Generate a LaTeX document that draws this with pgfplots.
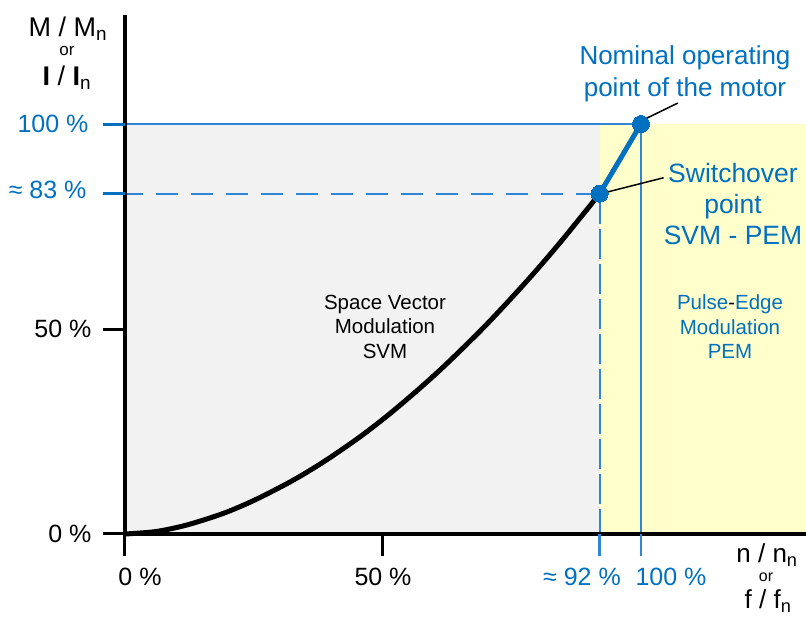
\documentclass[border=0pt]{standalone}
\usepackage{fontspec}
\setmainfont{Liberation Sans}
\usepackage{pgfplots}
\pgfplotsset{compat=1.18}
\definecolor{myblue}{HTML}{0070C0}
\definecolor{lineblue}{HTML}{2F86D6}
\definecolor{svmgrey}{HTML}{F2F2F2}
\definecolor{pemyellow}{HTML}{FFFFCC}
\newcommand\fs[1]{\fontsize{#1}{1.2\dimexpr#1pt\relax}\selectfont}
\begin{document}
\begin{tikzpicture}[x=1pt,y=1pt]
\begin{axis}[
  at={(0,0)}, anchor=origin,
  scale only axis, width=681pt, height=519pt,
  xmin=0, xmax=132, ymin=0, ymax=126.6,
  axis x line=bottom, axis y line=left,
  axis line style={-, line width=3.5pt, black},
  axis on top,
  clip=false,
  xtick={0,50}, ytick={0,50},
  xticklabels={}, yticklabels={},
  extra x ticks={92,100}, extra y ticks={83,100},
  extra x tick labels={}, extra y tick labels={},
  major tick length=22pt, tick align=outside,
  tick style={black, line width=3pt},
  extra x tick style={tick style={lineblue, line width=2.5pt}},
  extra y tick style={tick style={myblue, line width=3pt}},
]
% regions
\addplot[draw=none, fill=svmgrey] coordinates {(0,100) (92,100)} \closedcycle;
\addplot[draw=none, fill=pemyellow] coordinates {(92,100) (132,100)} \closedcycle;
% reference lines
\addplot[lineblue, line width=1.5pt] coordinates {(0,100) (100,100) (100,0)};
\addplot[lineblue, line width=2pt, dash pattern=on 22pt off 13pt, dash phase=4pt] coordinates {(0,83) (92,83)};
\addplot[lineblue, line width=2pt, dash pattern=on 30pt off 5pt] coordinates {(92,83) (92,0)};
% SVM characteristic
\addplot[black, line width=5pt, smooth] coordinates {
(0,0) (6,0.6) (12,2.2) (19,5.0) (25,8.2) (32,12.7) (38,17.2) (45,23.2) (51,29.0) (57,35.4) (62,41.1) (69,49.7) (75,57.7) (80,64.7) (85,72.1) (92,83)};
% PEM section
\addplot[myblue, line width=5pt, mark=*, mark size=8.5pt, mark options={fill=myblue, draw=myblue, line width=0pt}] coordinates {(92,83) (100,100)};
% leader lines
\draw[line width=1.5pt] (axis cs:100,100) ++(2pt,4pt) -- ++(35pt,17pt);
\draw[line width=1.5pt] (axis cs:92,83) ++(1pt,0pt) -- ++(63pt,16pt);
\end{axis}
% y axis title
\node[anchor=base, font=\fs{27}] at (-57,497) {M / M\textsubscript{n}};
\node[anchor=base, font=\fs{17}] at (-58,478) {or};
\node[anchor=base, font=\fs{27}] at (-58,448) {\textbf{I} / \textbf{I}\textsubscript{n}};
% y tick labels
\node[anchor=east, font=\fs{25}, text=myblue] at (-33,410) {100 \%};
\node[anchor=east, font=\fs{25}, text=myblue] at (-35,344) {≈ 83 \%};
\node[anchor=east, font=\fs{25}] at (-30,205) {50 \%};
\node[anchor=east, font=\fs{25}] at (-30,0) {0 \%};
% x tick labels
\node[font=\fs{25}] at (15,-43) {0 \%};
\node[font=\fs{25}] at (258,-43) {50 \%};
\node[font=\fs{25}, text=myblue] at (457,-43) {≈ 92 \%};
\node[font=\fs{25}, text=myblue] at (546,-43) {100 \%};
% x axis title
\node[anchor=base, font=\fs{26}] at (642,-29) {n / n\textsubscript{n}};
\node[anchor=base, font=\fs{16}] at (641,-48) {or};
\node[anchor=base, font=\fs{26}] at (643,-75) {f / f\textsubscript{n}};
% annotations
\node[align=center, font=\fontsize{26}{32}\selectfont, text=myblue] at (560,460) {Nominal operating\\point of the motor};
\node[align=center, font=\fontsize{26.5}{31}\selectfont, text=myblue] at (608,329.5) {Switchover\\point\\SVM - PEM};
\node[align=center, font=\fontsize{20.5}{24.5}\selectfont] at (260,207.5) {Space Vector\\Modulation\\SVM};
\node[align=center, font=\fontsize{20.5}{24.5}\selectfont, text=myblue] at (605,207) {Pulse{\color{black}-}Edge\\Modulation\\PEM};
\pgfresetboundingbox
\path (-125,-83) rectangle (681,534);
\end{tikzpicture}
\end{document}
